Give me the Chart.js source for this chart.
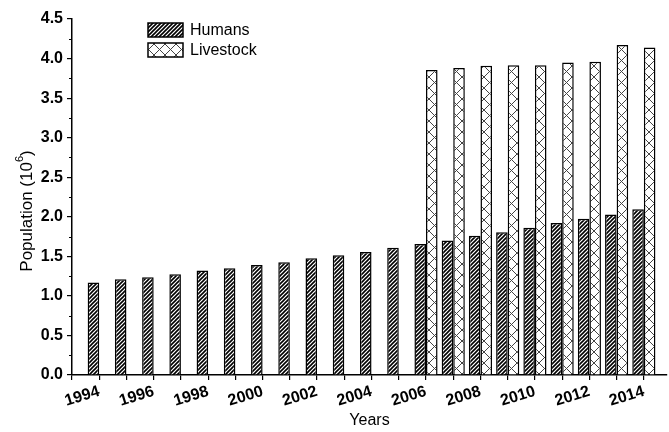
<!DOCTYPE html>
<html>
<head>
<meta charset="utf-8">
<script src="https://cdn.jsdelivr.net/npm/chart.js@4.4.1/dist/chart.umd.min.js"></script>
<style>
  html, body { margin: 0; padding: 0; background: #fff; }
  #wrap { width: 669px; height: 432px; }
</style>
</head>
<body>
<div id="wrap"><canvas id="myChart" width="669" height="432"></canvas></div>
<script>
// population by year, millions
const years = [1994, 1995, 1996, 1997, 1998, 1999, 2000, 2001, 2002, 2003, 2004,
               2005, 2006, 2007, 2008, 2009, 2010, 2011, 2012, 2013, 2014];
const humans = [1.17, 1.21, 1.235, 1.275, 1.32, 1.35, 1.39, 1.425, 1.475, 1.515, 1.555,
                1.61, 1.655, 1.70, 1.76, 1.805, 1.86, 1.92, 1.975, 2.03, 2.095];
// no livestock counts before 2006
const livestock = [null, null, null, null, null, null, null, null, null, null, null,
                   null, 3.855, 3.88, 3.91, 3.915, 3.915, 3.95, 3.96, 4.17, 4.14];

const FONT = "'Liberation Sans', Arial, sans-serif";
Chart.defaults.font.family = FONT;
Chart.defaults.color = '#000';

function makePattern(size, draw) {
  const c = document.createElement('canvas');
  c.width = size; c.height = size;
  const g = c.getContext('2d');
  g.fillStyle = '#fff';
  g.fillRect(0, 0, size, size);
  draw(g, size);
  return g.createPattern(c, 'repeat');
}

// "////" hatch
const hatch = makePattern(4, (g, s) => {
  g.strokeStyle = '#000';
  g.lineWidth = 1.6;
  g.beginPath();
  g.moveTo(-1, s + 1); g.lineTo(s + 1, -1);
  g.moveTo(-1, 1); g.lineTo(1, -1);
  g.moveTo(s - 1, s + 1); g.lineTo(s + 1, s - 1);
  g.stroke();
});

// "XXX" cross hatch
const cross = makePattern(11, (g, s) => {
  g.strokeStyle = '#444';
  g.lineWidth = 1;
  g.beginPath();
  g.moveTo(0, 0); g.lineTo(s, s);
  g.moveTo(s, 0); g.lineTo(0, s);
  g.stroke();
});

const humanPts = years.map((y, i) => ({ x: y, y: humans[i] }));
const livestockPts = years.map((y, i) => ({ x: y, y: livestock[i] })).filter(p => p.y !== null);

// small minor ticks between labelled ones on the y axis
const minorTicks = {
  id: 'minorTicks',
  afterDraw(chart) {
    const ctx = chart.ctx;
    const ys = chart.scales.y;
    ctx.save();
    ctx.strokeStyle = '#000';
    ctx.lineWidth = 1.2;
    ctx.beginPath();
    for (let v = 0.25; v < 4.5; v += 0.5) {
      const py = Math.round(ys.getPixelForValue(v)) + 0.5;
      ctx.moveTo(ys.right - 3, py);
      ctx.lineTo(ys.right, py);
    }
    ctx.stroke();
    ctx.restore();
  }
};

// y title with a real superscript exponent
const yTitle = {
  id: 'yTitle',
  afterDraw(chart) {
    const ctx = chart.ctx;
    const parts = [['Population (10', 17, 0], ['6', 11, -7], [')', 17, 0]];
    ctx.save();
    let total = 0;
    parts.forEach(p => { ctx.font = p[1] + 'px ' + FONT; total += ctx.measureText(p[0]).width; });
    ctx.translate(27, 211);
    ctx.rotate(-Math.PI / 2);
    ctx.fillStyle = '#000';
    ctx.textBaseline = 'middle';
    let x = -total / 2;
    parts.forEach(p => {
      ctx.font = p[1] + 'px ' + FONT;
      ctx.fillText(p[0], x, p[2]);
      x += ctx.measureText(p[0]).width;
    });
    ctx.restore();
  }
};

// legend boxes inside the plot
const boxLegend = {
  id: 'boxLegend',
  afterDraw(chart) {
    const ctx = chart.ctx;
    ctx.save();
    chart.data.datasets.forEach((ds, i) => {
      const x = 148, y = 23 + i * 20;
      ctx.fillStyle = ds.backgroundColor;
      ctx.fillRect(x, y, 35, 14);
      ctx.strokeStyle = '#000';
      ctx.lineWidth = 1.5;
      ctx.strokeRect(x, y, 35, 14);
      ctx.fillStyle = '#000';
      ctx.font = '16px ' + FONT;
      ctx.textBaseline = 'middle';
      ctx.fillText(ds.label, x + 42, y + 7.5);
    });
    ctx.restore();
  }
};

const config = {
  type: 'bar',
  data: {
    datasets: [{
      label: 'Humans',
      data: humanPts,
      backgroundColor: hatch,
      borderColor: '#000',
      borderWidth: 1.5
    }, {
      label: 'Livestock',
      data: livestockPts,
      backgroundColor: cross,
      borderColor: '#000',
      borderWidth: 1.5
    }]
  },
  options: {
    responsive: false,
    animation: false,
    categoryPercentage: 0.85,
    barPercentage: 1.0,
    layout: { padding: { top: 19, right: 2, left: 0, bottom: 0 } },
    plugins: {
      legend: { display: false },
      tooltip: { enabled: false }
    },
    scales: {
      x: {
        type: 'linear',
        offset: false,
        min: 1993,
        max: 2014.85,
        afterFit: s => { s.height = 57; },
        border: { color: '#000', width: 1.5 },
        grid: { offset: false, drawOnChartArea: false, drawTicks: true, tickLength: 5, color: '#000', lineWidth: 1.2 },
        ticks: {
          stepSize: 1,
          includeBounds: false,
          autoSkip: false,
          minRotation: 17,
          maxRotation: 17,
          padding: 2,
          font: { size: 16, weight: 'bold' },
          callback: v => (v % 2 === 0 ? String(v) : '')
        },
        title: {
          display: true,
          text: 'Years',
          font: { size: 16 },
          padding: { top: 0, bottom: 2 }
        }
      },
      y: {
        min: 0,
        max: 4.5,
        afterFit: s => { s.width = 72; },
        border: { color: '#000', width: 1.5 },
        grid: { drawOnChartArea: false, drawTicks: true, tickLength: 5, color: '#000', lineWidth: 1.2 },
        ticks: {
          stepSize: 0.5,
          padding: 4,
          font: { size: 16, weight: 'bold' },
          callback: v => v.toFixed(1)
        }
      }
    }
  },
  plugins: [minorTicks, yTitle, boxLegend]
};

const myChart = new Chart(document.getElementById('myChart'), config);
</script>
</body>
</html>
